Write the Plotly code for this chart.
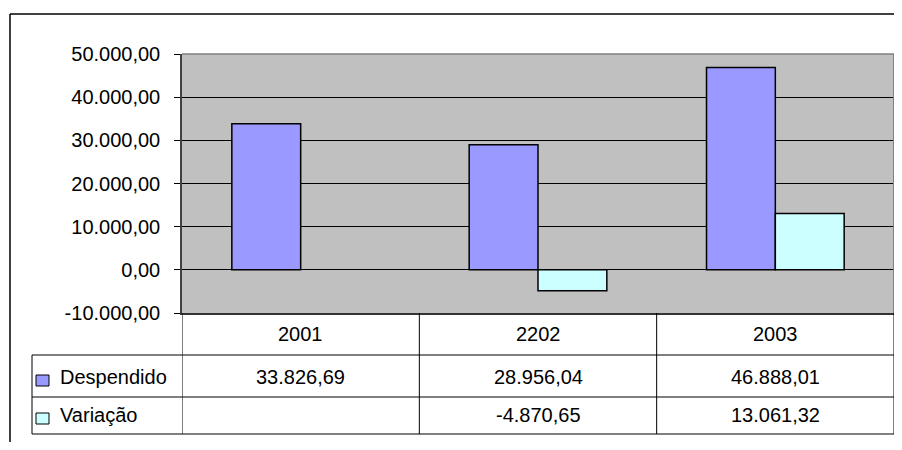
import plotly.graph_objects as go

years = ['2001', '2202', '2003']
despendido = [33826.69, 28956.04, 46888.01]
variacao = [None, -4870.65, 13061.32]
series_names = ['Despendido', 'Variação']
series_colors = ['#9999FF', '#CCFFFF']
y_ticks = [-10000, 0, 10000, 20000, 30000, 40000, 50000]


def br(v):
    # brazilian number format, plain hyphen for negatives
    s = f"{abs(v):,.2f}".replace(',', '#').replace('.', ',').replace('#', '.')
    return ('-' if v < 0 else '') + s


# the page body adds 8px on each side, so size the figure to fit the window
# and work in screen pixels shifted back by 8
OFF = 8
FW, FH = 902 - 2 * OFF, 450 - 2 * OFF
L, R, T, B = 182 - OFF, FW, 54 - OFF, 313 - OFF
def px(x):
    return (x - OFF - L) / (R - L)
def py(y):
    return (B - (y - OFF)) / (B - T)


fig = go.Figure()
for name, vals, col in zip(series_names, [despendido, variacao], series_colors):
    fig.add_trace(go.Bar(
        x=years, y=vals, name=name,
        marker=dict(color=col, line=dict(color='black', width=1.5)),
    ))

shapes = []
# chart frame
shapes.append(dict(type='line', xref='paper', yref='paper', x0=px(10), x1=px(910),
                   y0=py(14), y1=py(14), line=dict(color='black', width=1.5)))
shapes.append(dict(type='line', xref='paper', yref='paper', x0=px(10), x1=px(10),
                   y0=py(14), y1=py(460), line=dict(color='black', width=1.5)))
# plot area border top / right
shapes.append(dict(type='line', xref='paper', yref='paper', x0=0, x1=1, y0=1, y1=1,
                   line=dict(color='#808080', width=1.5), layer='above'))
shapes.append(dict(type='line', xref='paper', yref='paper', x0=1, x1=1, y0=0, y1=1,
                   line=dict(color='#808080', width=2), layer='above'))

# data table grid
rows = [334, 377, 415]
for xb in [-0.5, 0.5, 1.5, 2.5]:
    shapes.append(dict(type='line', xref='x', yref='paper', x0=xb, x1=xb,
                       y0=py(313), y1=py(434), line=dict(color='black', width=1)))
for yb in [355, 397, 434]:
    shapes.append(dict(type='line', xref='paper', yref='paper', x0=px(32), x1=1,
                       y0=py(yb), y1=py(yb), line=dict(color='black', width=1)))
shapes.append(dict(type='line', xref='paper', yref='paper', x0=px(32), x1=px(32),
                   y0=py(355), y1=py(434), line=dict(color='black', width=1)))

annotations = []
for i, yr in enumerate(years):
    annotations.append(dict(x=i, xref='x', y=py(rows[0]), yref='paper', text=yr,
                            showarrow=False, xanchor='center', yanchor='middle'))
for k, (name, vals, col) in enumerate(zip(series_names, [despendido, variacao], series_colors)):
    yrow = rows[k + 1]
    shapes.append(dict(type='rect', xref='paper', yref='paper', x0=px(36), x1=px(49),
                       y0=py(yrow - 2), y1=py(yrow + 9), fillcolor=col,
                       line=dict(color='black', width=1)))
    annotations.append(dict(x=px(58), xref='paper', y=py(yrow), yref='paper', text=name,
                            showarrow=False, xanchor='left', yanchor='middle'))
    for i, v in enumerate(vals):
        if v is None:
            continue
        annotations.append(dict(x=i, xref='x', y=py(yrow), yref='paper', text=br(v),
                                showarrow=False, xanchor='center', yanchor='middle'))

fig.update_layout(
    width=FW, height=FH,
    margin=dict(l=L, r=FW - R, t=T, b=FH - B),
    paper_bgcolor='white', plot_bgcolor='#C0C0C0',
    font=dict(family='Liberation Sans, Arial, sans-serif', size=20, color='black'),
    barmode='group', bargap=0.42, bargroupgap=0,
    showlegend=False,
    shapes=shapes, annotations=annotations,
)
fig.update_xaxes(type='category', range=[-0.5, 2.5], showticklabels=False, ticks='',
                 showgrid=False, showline=True, linecolor='#333333', linewidth=2)
fig.update_yaxes(range=[-10000, 50000], tickvals=y_ticks, ticktext=[br(v) for v in y_ticks],
                 showgrid=True, gridcolor='black', gridwidth=1, zeroline=False,
                 showline=True, linecolor='#404040', linewidth=1.5,
                 ticks='outside', ticklen=6, tickcolor='black', ticklabelstandoff=10)

fig.write_html("out.html")
